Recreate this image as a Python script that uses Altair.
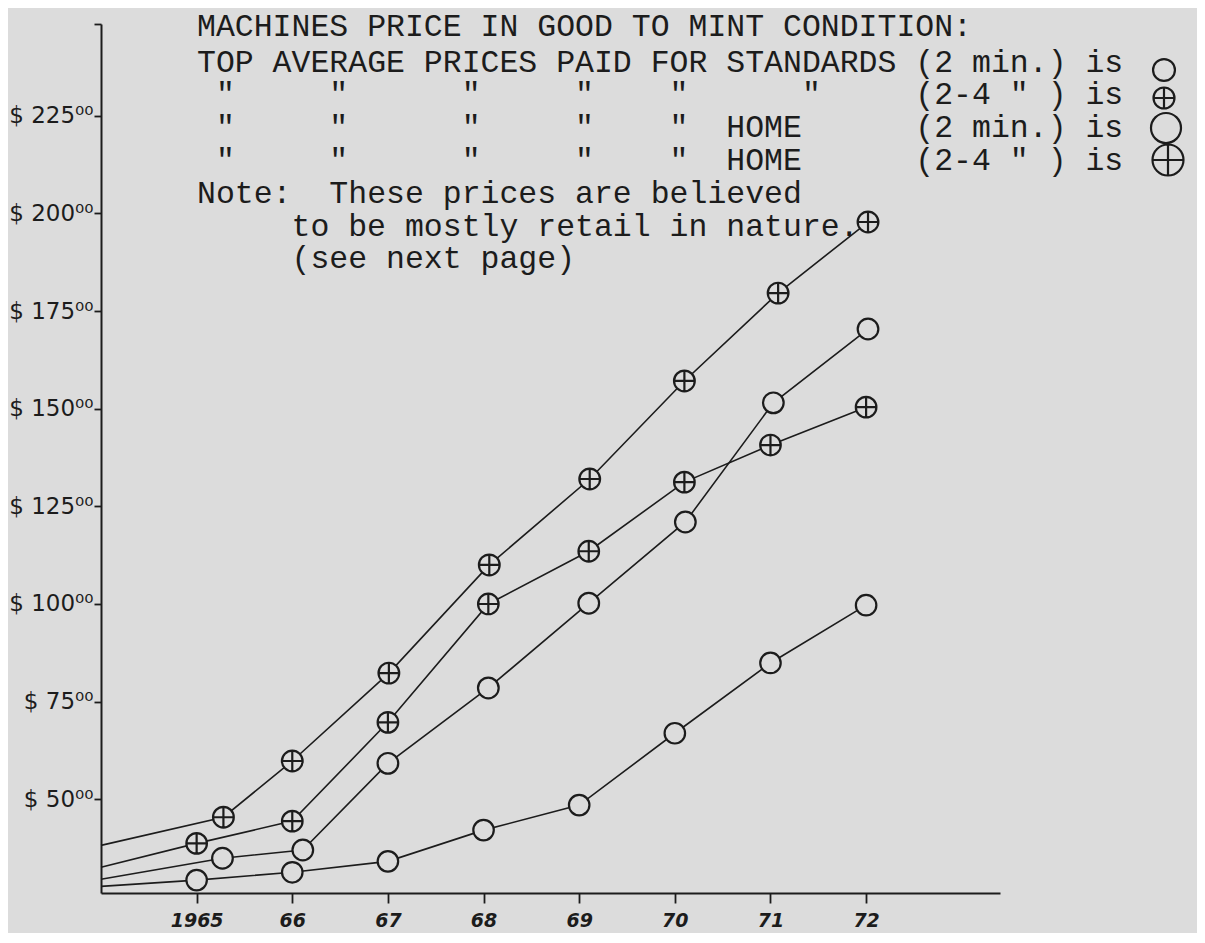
import json
import altair as alt
import pandas as pd

# ---------------- data ----------------
series_names = ["STANDARDS (2 min.)", "STANDARDS (2-4 min.)", "HOME (2 min.)", "HOME (2-4 min.)"]

axis_year = 1964
axis_values = [27.7, 32.6, 29.5, 38.2]          # where each line meets the y-axis

years_std2 = [1965, 1966, 1967, 1968, 1969, 1970, 1971, 1972]
price_std2 = [29.3, 31.3, 34.1, 42.1, 48.5, 66.9, 84.9, 99.7]

years_std4 = [1965, 1966, 1967, 1968.05, 1969.1, 1970.1, 1971, 1972]
price_std4 = [38.7, 44.4, 69.7, 100.0, 113.5, 131.2, 140.7, 150.4]

years_home2 = [1965.27, 1966.11, 1967, 1968.05, 1969.1, 1970.11, 1971.03, 1972.02]
price_home2 = [34.9, 37.0, 59.2, 78.5, 100.2, 121.0, 151.5, 170.4]

years_home4 = [1965.28, 1966, 1967.01, 1968.06, 1969.11, 1970.1, 1971.08, 1972.02]
price_home4 = [45.4, 59.8, 82.3, 110.0, 132.0, 157.1, 179.6, 197.8]

x_ticks = [1965, 1966, 1967, 1968, 1969, 1970, 1971, 1972]
x_tick_labels = ["1965", "66", "67", "68", "69", "70", "71", "72"]
y_ticks = [50, 75, 100, 125, 150, 175, 200, 225]
y_tick_labels = ["$ 50⁰⁰", "$ 75⁰⁰", "$ 100⁰⁰", "$ 125⁰⁰", "$ 150⁰⁰", "$ 175⁰⁰", "$ 200⁰⁰", "$ 225⁰⁰"]

text_lines = [
    "MACHINES PRICE IN GOOD TO MINT CONDITION:",
    "TOP AVERAGE PRICES PAID FOR STANDARDS (2 min.) is",
    ' "     "      "     "    "      "     (2-4 " ) is',
    ' "     "      "     "    "  HOME      (2 min.) is',
    ' "     "      "     "    "  HOME      (2-4 " ) is',
    "Note:  These prices are believed",
    "     to be mostly retail in nature.",
    "     (see next page)",
]

# ---------------- build tables ----------------
all_years = [years_std2, years_std4, years_home2, years_home4]
all_prices = [price_std2, price_std4, price_home2, price_home4]

pt_rows, ln_rows = [], []
for i, name in enumerate(series_names):
    ln_rows.append({"series": name, "year": axis_year, "price": axis_values[i], "k": 0})
    for j, (yr, pr) in enumerate(zip(all_years[i], all_prices[i])):
        pt_rows.append({"series": name, "year": yr, "price": pr})
        ln_rows.append({"series": name, "year": yr, "price": pr, "k": j + 1})
points = pd.DataFrame(pt_rows)
lines = pd.DataFrame(ln_rows)

BG = "#dcdcdc"
INK = "#1c1c1c"
W, H = 899, 869
CHAR_W = 18.9      # advance of Liberation Mono at 31.5px

circle = "circle"
crossed = "M -1 0 A 1 1 0 1 1 1 0 A 1 1 0 1 1 -1 0 Z M -1 0 L 1 0 M 0 -1 L 0 1"
marker_shapes = [circle, crossed, circle, crossed]
marker_sizes = [420, 430, 1000, 1050]

x_label_expr = "%s[indexof(%s, datum.value)]" % (json.dumps(x_tick_labels), json.dumps(x_ticks))
y_label_expr = "indexof(%s, datum.value) < 0 ? '' : %s[indexof(%s, datum.value)]" % (
    json.dumps(y_ticks), json.dumps(y_tick_labels, ensure_ascii=False), json.dumps(y_ticks))

x_enc = alt.X("year:Q",
              scale=alt.Scale(domain=[1964, 1973.4], nice=False, zero=False),
              axis=alt.Axis(values=x_ticks, labelExpr=x_label_expr, title=None, grid=False,
                            domainColor=INK, domainWidth=2, tickColor=INK, tickWidth=1.8,
                            tickSize=10, labelFont="DejaVu Sans", labelFontStyle="italic",
                            labelFontWeight="bold", labelFontSize=19, labelColor=INK,
                            labelPadding=8, labelFlush=False, labelOverlap=False))
y_enc = alt.Y("price:Q",
              scale=alt.Scale(domain=[26, 248.5], nice=False, zero=False),
              axis=alt.Axis(values=y_ticks + [248.5], labelExpr=y_label_expr, title=None,
                            grid=False, domainColor=INK, domainWidth=2, tickColor=INK,
                            tickWidth=1.8, tickSize=7, labelFont="DejaVu Sans",
                            labelFontSize=23, labelColor=INK, labelPadding=1,
                            labelFlush=False, labelOverlap=False))

line_layer = alt.Chart(lines).mark_line(color=INK, strokeWidth=1.6).encode(
    x=x_enc, y=y_enc, detail="series:N", order="k:Q")

point_layer = alt.Chart(points).mark_point(
    fill=BG, fillOpacity=1, opacity=1, stroke=INK, strokeWidth=2.2).encode(
    x="year:Q", y="price:Q",
    shape=alt.Shape("series:N", legend=None,
                    scale=alt.Scale(domain=series_names, range=marker_shapes)),
    size=alt.Size("series:N", legend=None,
                  scale=alt.Scale(domain=series_names, range=marker_sizes)),
)

layers = [line_layer, point_layer]

# typed note block (monospace, typewriter-like)
line_y = [3, 39, 71, 104, 137, 170, 203, 235]
for t, yy in zip(text_lines, line_y):
    lead = len(t) - len(t.lstrip(" "))
    body = t.lstrip(" ").replace(" ", "\u00a0")
    layers.append(
        alt.Chart(pd.DataFrame({"t": [body]})).mark_text(
            font="Liberation Mono", fontSize=31.5, color=INK, align="left",
            baseline="middle").encode(text="t:N", x=alt.value(96 + lead * CHAR_W),
                                      y=alt.value(yy)))

# key symbols at the end of the typed legend lines
key_pos = [(1063, 46), (1063, 74), (1065, 104), (1067, 136)]
key_sizes = [480, 440, 900, 960]
for shp, sz, (kx, ky) in zip(marker_shapes, key_sizes, key_pos):
    layers.append(
        alt.Chart(pd.DataFrame({"k": [0]})).mark_point(
            shape=shp, size=sz, fill=BG, fillOpacity=1, opacity=1, stroke=INK,
            strokeWidth=2.2).encode(x=alt.value(kx), y=alt.value(ky)))

chart = alt.layer(*layers).properties(
    width=W, height=H, background=BG,
    autosize=alt.AutoSizeParams(type="none"),
    padding={"left": 93, "top": 16, "right": 197, "bottom": 40},
).configure_view(stroke=None)

chart.save("out.html", embed_options={"renderer": "svg", "actions": False})
